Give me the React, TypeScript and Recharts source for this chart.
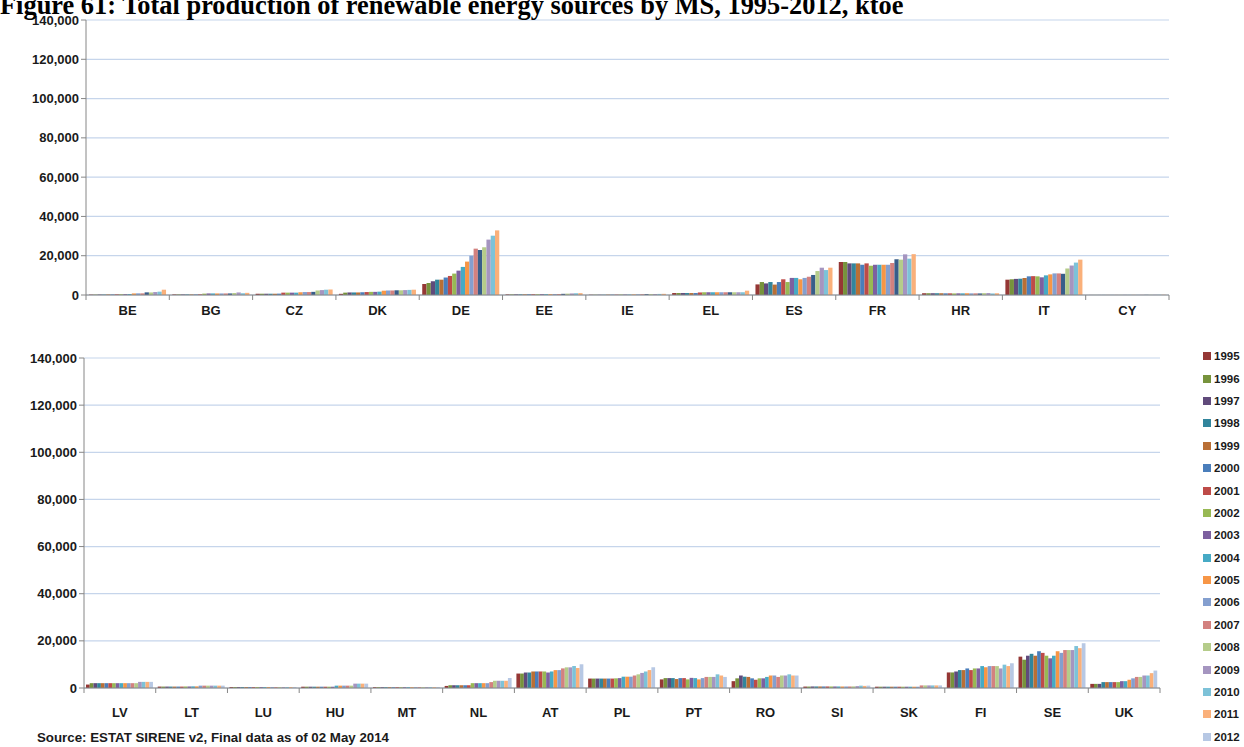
import React from 'react';
import { BarChart, Bar, XAxis, YAxis, CartesianGrid } from 'recharts';

// ktoe, one value per year 1995..2012
const YEARS = ['1995', '1996', '1997', '1998', '1999', '2000', '2001', '2002', '2003', '2004', '2005', '2006', '2007', '2008', '2009', '2010', '2011', '2012'];
const Y_TICKS = [0, 20000, 40000, 60000, 80000, 100000, 120000, 140000];

const TOP_COUNTRIES = ['BE', 'BG', 'CZ', 'DK', 'DE', 'EE', 'IE', 'EL', 'ES', 'FR', 'HR', 'IT', 'CY'];
const BOTTOM_COUNTRIES = ['LV', 'LT', 'LU', 'HU', 'MT', 'NL', 'AT', 'PL', 'PT', 'RO', 'SI', 'SK', 'FI', 'SE', 'UK'];

const BE = [200, 200, 250, 250, 300, 300, 350, 400, 450, 500, 800, 850, 850, 1350, 1300, 1500, 1700, 2700];
const BG = [300, 300, 300, 300, 300, 300, 350, 700, 800, 800, 800, 800, 800, 800, 1000, 1300, 900, 1100];
const CZ = [650, 650, 650, 650, 650, 700, 1200, 1200, 1200, 1200, 1400, 1500, 1500, 1600, 2300, 2500, 2700, 2800];
const DK = [600, 1200, 1300, 1300, 1300, 1400, 1500, 1600, 1600, 1700, 2200, 2300, 2300, 2400, 2400, 2500, 2600, 2700];
const DE = [5600, 6100, 7000, 7800, 7800, 8900, 9700, 10900, 12400, 14300, 17000, 20000, 23600, 22900, 24300, 28200, 30200, 32900];
const EE = [300, 300, 350, 350, 350, 400, 400, 400, 450, 450, 450, 500, 500, 600, 700, 800, 900, 950];
const IE = [150, 150, 150, 150, 200, 200, 200, 250, 250, 250, 300, 350, 400, 450, 450, 500, 550, 600];
const EL = [1000, 1000, 1000, 1000, 1000, 1000, 1300, 1400, 1400, 1400, 1400, 1400, 1400, 1400, 1400, 1400, 1400, 2200];
const ES = [5400, 6600, 5900, 6600, 5300, 6600, 8000, 6600, 8700, 8700, 8000, 8700, 9300, 10200, 12200, 13900, 12700, 13900];
const FR = [16800, 16800, 16100, 16100, 16100, 15400, 16100, 14900, 15400, 15400, 15400, 15400, 16300, 18200, 18000, 20700, 18500, 20800];
const HR = [900, 900, 900, 900, 900, 850, 850, 800, 850, 850, 900, 850, 850, 800, 950, 1000, 800, 900];
const IT = [7800, 8000, 8200, 8300, 8700, 9500, 9600, 9500, 9000, 10000, 10500, 11000, 11000, 10800, 13500, 15000, 16500, 18000];
const CY = [30, 30, 30, 40, 40, 40, 40, 45, 50, 50, 60, 60, 70, 80, 90, 100, 110, 120];

const LV = [1460, 2050, 2050, 2050, 2050, 2050, 2050, 2050, 2050, 2050, 2050, 2050, 2050, 2050, 2600, 2600, 2600, 2600];
const LT = [600, 600, 600, 600, 600, 600, 600, 650, 650, 700, 700, 1000, 1000, 1000, 1000, 1000, 1000, 1000];
const LU = [400, 400, 400, 400, 400, 400, 400, 400, 400, 400, 400, 400, 400, 400, 400, 400, 400, 400];
const HU = [550, 550, 550, 550, 550, 550, 550, 550, 550, 1000, 1000, 1000, 1000, 1000, 1850, 1850, 1850, 1850];
const MT = [350, 350, 350, 350, 350, 350, 350, 350, 350, 350, 350, 350, 350, 350, 350, 350, 350, 350];
const NL = [880, 1170, 1170, 1170, 1170, 1170, 1170, 2050, 2050, 2050, 2050, 2050, 2500, 3070, 3070, 3070, 3070, 4240];
const AT = [6130, 6130, 6570, 6570, 7010, 7010, 7010, 7010, 6570, 7010, 7590, 7590, 8320, 8760, 8760, 9340, 8470, 10070];
const PL = [4000, 4000, 4000, 4000, 4000, 4000, 4000, 4100, 4200, 4800, 4800, 4800, 5300, 5800, 6400, 7000, 7600, 8800];
const PT = [3650, 4200, 4200, 4200, 3800, 4200, 4200, 3650, 4300, 4200, 3650, 4200, 4700, 4700, 4700, 5800, 5300, 4700];
const RO = [2900, 4100, 5300, 4800, 4700, 4100, 3500, 4100, 4100, 4700, 5300, 5300, 4700, 5300, 5300, 5800, 5300, 5300];
const SI = [600, 600, 650, 650, 650, 650, 650, 650, 650, 650, 650, 650, 650, 700, 800, 1000, 900, 1000];
const SK = [550, 550, 550, 550, 550, 550, 550, 550, 550, 550, 550, 550, 1100, 1100, 1100, 1100, 1100, 1100];
const FI = [6600, 6600, 7000, 7600, 7600, 8300, 7600, 8300, 8300, 9300, 8800, 9300, 9300, 9300, 8300, 9900, 9300, 10500];
const SE = [13300, 12000, 13700, 14500, 13700, 15600, 14900, 13700, 12600, 13700, 15600, 14900, 16100, 16100, 16100, 17800, 16900, 19000];
const UK = [1750, 1750, 1750, 2500, 2500, 2500, 2500, 2500, 2900, 2900, 3500, 4100, 4700, 4700, 5300, 5300, 6300, 7400];

const TOP_VALUES = [BE, BG, CZ, DK, DE, EE, IE, EL, ES, FR, HR, IT, CY];
const BOTTOM_VALUES = [LV, LT, LU, HU, MT, NL, AT, PL, PT, RO, SI, SK, FI, SE, UK];

// top panel uses a dark blue in the 2008 slot and no pale blue 2012
const TOP_COLORS = ['#953735', '#77933C', '#604A7B', '#31859C', '#B96F35', '#4A7EBB', '#BE4B48', '#98B954', '#7D60A0', '#46AAC5', '#F79646', '#849FCF', '#D3817F', '#385D8A', '#B5CC8A', '#A595C0', '#7DC2D8', '#FAB07A'];
const BOTTOM_COLORS = ['#953735', '#77933C', '#604A7B', '#31859C', '#B96F35', '#4A7EBB', '#BE4B48', '#98B954', '#7D60A0', '#46AAC5', '#F79646', '#849FCF', '#D3817F', '#B5CC8A', '#A595C0', '#7DC2D8', '#FAB07A', '#B7C8E4'];

const buildRows = (countries: string[], values: number[][]) =>
  countries.map((country, i) => {
    const row: Record<string, any> = { country };
    YEARS.forEach((y, j) => {
      row['y' + y] = values[i][j];
    });
    return row;
  });

const topData = buildRows(TOP_COUNTRIES, TOP_VALUES);
const bottomData = buildRows(BOTTOM_COUNTRIES, BOTTOM_VALUES);

const AXIS = '#868686';
const GRID = '#C6D5EB';
const FONT = '"Liberation Sans", Arial, sans-serif';
const fmt = (v: number) => v.toLocaleString('en-US');

const CategoryTick = (props: any) => {
  const { x, y, payload, index, band, count, labelDy } = props;
  return (
    <g>
      <line x1={x - band / 2} x2={x - band / 2} y1={y} y2={y + 5} stroke={AXIS} />
      {index === count - 1 && <line x1={x + band / 2} x2={x + band / 2} y1={y} y2={y + 5} stroke={AXIS} />}
      <text x={x} y={y + labelDy} textAnchor="middle" fontFamily={FONT} fontWeight="bold" fontSize={13} fill="#1a1a1a">
        {payload.value}
      </text>
    </g>
  );
};

const Panel = (props: any) => {
  const { data, colors, width, height, margin, yWidth, barSize, band, labelDy, countries } = props;
  return (
    <BarChart width={width} height={height} data={data} margin={margin} barGap={0} barSize={barSize}>
      <CartesianGrid horizontal vertical={false} stroke={GRID} strokeWidth={1.2} />
      <XAxis
        dataKey="country"
        interval={0}
        axisLine={{ stroke: AXIS }}
        tickLine={false}
        tickSize={0}
        tickMargin={0}
        height={25}
        tick={(p: any) => <CategoryTick {...p} band={band} count={countries.length} labelDy={labelDy} />}
      />
      <YAxis
        domain={[0, 140000]}
        ticks={Y_TICKS}
        interval={0}
        width={yWidth}
        axisLine={{ stroke: AXIS }}
        tickLine={{ stroke: AXIS }}
        tickSize={5}
        tickMargin={2}
        tickFormatter={fmt}
        tick={{ fontFamily: FONT, fontWeight: 'bold', fontSize: 13, fill: '#1a1a1a' }}
      />
      {YEARS.map((y, i) => (
        <Bar key={y} dataKey={'y' + y} name={y} fill={colors[i]} isAnimationActive={false} />
      ))}
    </BarChart>
  );
};

export default function App() {
  return (
    <div style={{ position: 'absolute', left: 0, top: 0, width: 1244, height: 747, overflow: 'hidden', background: '#fff' }}>
      <div style={{ position: 'absolute', left: 0, top: 0 }}>
        <Panel
          data={topData}
          colors={TOP_COLORS}
          countries={TOP_COUNTRIES}
          width={1244}
          height={330}
          margin={{ top: 20, right: 75, bottom: 10, left: 0 }}
          yWidth={86}
          barSize={4.28}
          band={(1244 - 75 - 86) / TOP_COUNTRIES.length}
          labelDy={20}
        />
      </div>

      <svg width={1244} height={30} style={{ position: 'absolute', left: 0, top: 0 }}>
        <text x={0} y={13.5} fontFamily='"Liberation Serif", "Times New Roman", serif' fontWeight="bold" fontSize={26.4} fill="#000">
          Figure 61: Total production of renewable energy sources by MS, 1995-2012, ktoe
        </text>
      </svg>

      <div style={{ position: 'absolute', left: 0, top: 330 }}>
        <Panel
          data={bottomData}
          colors={BOTTOM_COLORS}
          countries={BOTTOM_COUNTRIES}
          width={1244}
          height={393}
          margin={{ top: 28, right: 84, bottom: 10, left: 0 }}
          yWidth={84}
          barSize={3.72}
          band={(1244 - 84 - 84) / BOTTOM_COUNTRIES.length}
          labelDy={29}
        />
      </div>

      <div style={{ position: 'absolute', left: 1203, top: 345 }}>
        {YEARS.map((y, i) => (
          <div key={y} style={{ display: 'flex', alignItems: 'center', height: 22.4, fontFamily: FONT, fontWeight: 'bold', fontSize: 11.5, color: '#1a1a1a' }}>
            <span style={{ width: 8, height: 8, background: BOTTOM_COLORS[i], marginRight: 3 }} />
            {y}
          </div>
        ))}
      </div>

      <svg width={1244} height={30} style={{ position: 'absolute', left: 0, top: 717 }}>
        <text x={37} y={25} fontFamily={FONT} fontWeight="bold" fontSize={13.3} fill="#1a1a1a">
          Source: ESTAT SIRENE v2, Final data as of 02 May 2014
        </text>
      </svg>
    </div>
  );
}
